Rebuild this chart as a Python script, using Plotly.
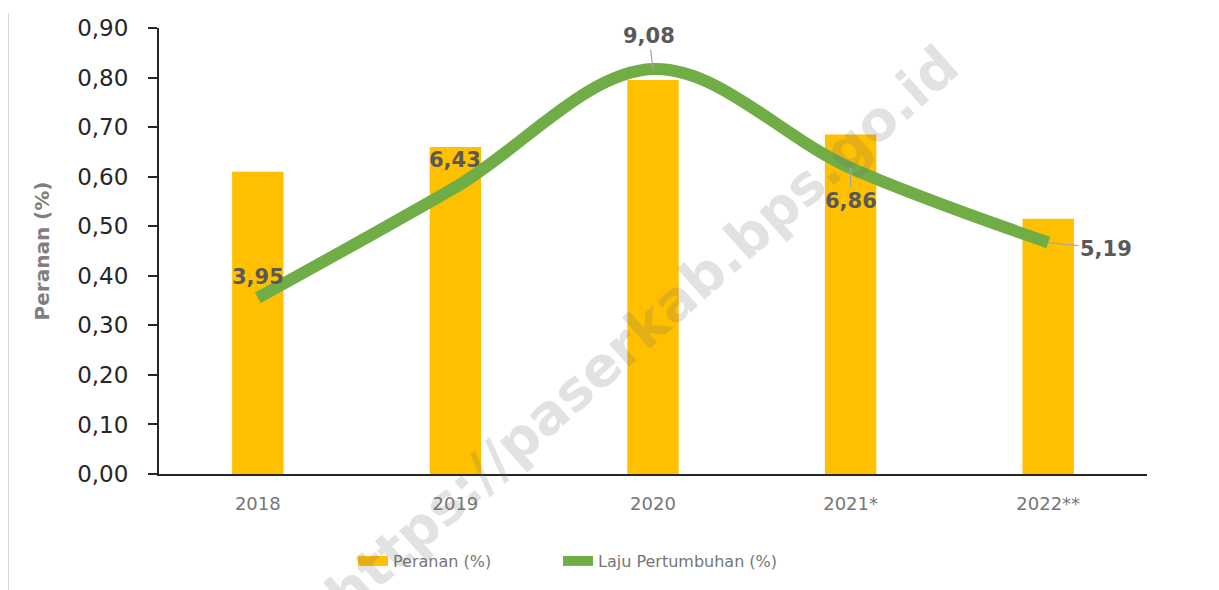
import plotly.graph_objects as go

categories = ["2018", "2019", "2020", "2021*", "2022**"]
peranan = [0.61, 0.66, 0.795, 0.685, 0.515]
laju = [3.95, 6.43, 9.08, 6.86, 5.19]
y_ticks = [0.0, 0.1, 0.2, 0.3, 0.4, 0.5, 0.6, 0.7, 0.8, 0.9]

x_idx = list(range(len(categories)))

# label offsets (pixels): (xshift, yshift, leader line)
label_pos = [(0, 21, False), (0, 27, False), (-4, 33, True), (0, -33, True), (58, -6, True)]

# page body has an 8px margin; compensate so the plot area lands where the original's does
L, T, PW, PH = 151, 20, 988, 446
W, H = 1219, 590

fig = go.Figure()
fig.add_trace(go.Bar(
    x=x_idx, y=peranan, name="Peranan (%)", showlegend=False,
    marker=dict(color="#FFC000", line=dict(width=0)), width=0.26,
))
# legend proxy for the bar series (wide swatch like the original)
fig.add_trace(go.Scatter(
    x=[None], y=[None], name="Peranan (%)", mode="lines",
    line=dict(color="#FFC000", width=14), legend="legend",
))
fig.add_trace(go.Scatter(
    x=x_idx, y=laju, name="Laju Pertumbuhan (%)", yaxis="y2",
    mode="lines", line=dict(color="#70AD47", width=12, shape="spline", smoothing=1.0),
    legend="legend2",
))

annotations = []
for i, v, (dx, dy, arrow) in zip(x_idx, laju, label_pos):
    txt = f"{v:.2f}".replace(".", ",")
    font = dict(family="DejaVu Sans", size=21, color="#595959", weight="bold")
    if arrow:
        annotations.append(dict(
            x=i, y=v, xref="x", yref="y2", text=txt, font=font,
            showarrow=True, arrowhead=0, arrowwidth=1.2, arrowcolor="#A6A6A6",
            ax=dx, ay=-dy, standoff=0,
        ))
    else:
        annotations.append(dict(
            x=i, y=v, xref="x", yref="y2", text=txt, font=font,
            showarrow=False, xshift=dx, yshift=dy,
        ))

annotations.append(dict(
    x=(642 - 159) / PW, y=(474 - 330) / PH, xref="paper", yref="paper",
    xanchor="center", yanchor="middle",
    text="https://paserkab.bps.go.id", showarrow=False, textangle=-41.6,
    font=dict(family="DejaVu Sans", size=55, color="rgba(110,110,110,0.2)", weight="bold"),
))

leg_common = dict(
    orientation="h", y=(474 - 561) / PH, xanchor="left", yanchor="middle",
    font=dict(family="DejaVu Sans", size=16, color="#767676"),
)

fig.update_layout(
    width=W, height=H,
    margin=dict(l=L, r=W - L - PW, t=T, b=H - T - PH, autoexpand=False),
    paper_bgcolor="white", plot_bgcolor="white",
    separators=",.",
    showlegend=True,
    legend=dict(x=(353 - 159) / PW, **leg_common),
    legend2=dict(x=(558 - 159) / PW, **leg_common),
    xaxis=dict(
        range=[-0.5, 4.5], tickvals=x_idx, ticktext=categories,
        showline=True, linecolor="#262626", linewidth=2,
        ticks="", showgrid=False, zeroline=False, automargin=False,
        tickfont=dict(family="DejaVu Sans", size=18, color="#767676"),
        ticklabelstandoff=12,
    ),
    yaxis=dict(
        range=[0, 0.9], tickvals=y_ticks, tickformat=".2f",
        showline=True, linecolor="#262626", linewidth=2,
        ticks="outside", ticklen=9, tickcolor="#262626", tickwidth=2,
        showgrid=False, zeroline=False, automargin=False,
        tickfont=dict(family="DejaVu Sans", size=23, color="#262626"),
        ticklabelstandoff=15,
        title=dict(text="Peranan (%)", standoff=22,
                   font=dict(family="DejaVu Sans", size=20, color="#7F7F7F", weight="bold")),
    ),
    yaxis2=dict(range=[0, 10], overlaying="y", side="right", visible=False),
    annotations=annotations,
    shapes=[dict(type="line", xref="paper", yref="paper",
                 x0=(8 - 159) / PW, x1=(8 - 159) / PW,
                 y0=(474 - 13) / PH, y1=(474 - 600) / PH,
                 line=dict(color="#D9D9D9", width=2))],
)

fig.write_html("out.html")
